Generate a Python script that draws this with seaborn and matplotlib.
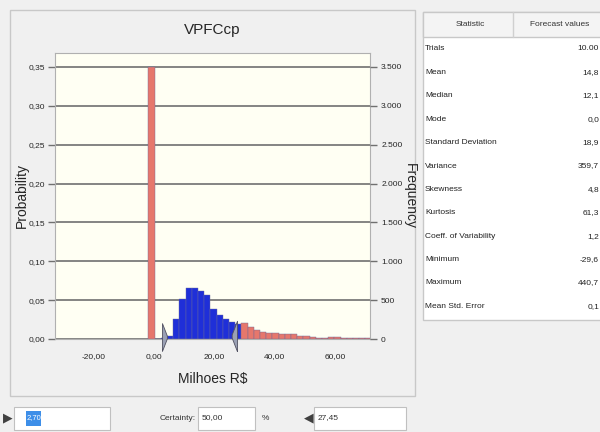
import numpy as np
import pandas as pd
import matplotlib
matplotlib.use("Agg")
import matplotlib.pyplot as plt
from matplotlib.patches import Rectangle
from matplotlib.lines import Line2D
import seaborn as sns

# Forecast histogram (bin width ~2.05)
bin_start = -1.8
bin_width = 2.05
probs = [0.350, 0.000, 0.001, 0.0045, 0.026, 0.052, 0.065, 0.066, 0.062, 0.057,
         0.039, 0.0315, 0.026, 0.0216, 0.0195, 0.020, 0.0152, 0.0118, 0.0096, 0.008,
         0.008, 0.0067, 0.0067, 0.0062, 0.0036, 0.0034, 0.003, 0.0018, 0.0016, 0.0026,
         0.0028, 0.0014, 0.0012, 0.001, 0.0009, 0.0008]
trials = 10000
left_value = 2.70
right_value = 27.45
certainty = "50,00"

prob_ticks = [0.00, 0.05, 0.10, 0.15, 0.20, 0.25, 0.30, 0.35]
freq_ticks = [0, 500, 1000, 1500, 2000, 2500, 3000, 3500]
x_ticks = [-20, 0, 20, 40, 60]

stat_names = ["Trials", "Mean", "Median", "Mode", "Standard Deviation", "Variance",
              "Skewness", "Kurtosis", "Coeff. of Variability", "Minimum", "Maximum",
              "Mean Std. Error"]
stat_values = ["10.00", "14,8", "12,1", "0,0", "18,9", "359,7", "4,8", "61,3",
               "1,2", "-29,6", "440,7", "0,1"]

edges = bin_start + bin_width * np.arange(len(probs) + 1)
centers = edges[:-1] + bin_width / 2
df = pd.DataFrame({"value": centers, "prob": probs})
df["zone"] = np.where((edges[:-1] + 0.5 >= left_value) & (edges[:-1] < right_value), "in", "out")

sns.set_style("white")
narrow = ["Liberation Sans Narrow", "DejaVu Sans Condensed", "Liberation Sans", "DejaVu Sans"]
plt.rcParams["font.family"] = narrow

W, H = 600, 432
fig = plt.figure(figsize=(6, 4.32), dpi=100, facecolor="#f0f0f0")

def fx(px):
    return px / W

def fy(py):
    return 1 - py / H

# chart panel frame
fig.patches.append(Rectangle((fx(10), fy(396)), fx(405), 386 / H, transform=fig.transFigure,
                             facecolor="#f0f0f0", edgecolor="#c8c8c8", lw=1, zorder=-5))
ax = fig.add_axes([fx(55), fy(339), fx(315), (339 - 53) / H])
ax.set_facecolor("#fffff3")
ax.set_zorder(3)

for zone, color in [("in", "#1f2fd8"), ("out", "#e6776c")]:
    sub = df[df["zone"] == zone]
    sns.histplot(x=sub["value"], weights=sub["prob"], bins=list(edges), color=color,
                 alpha=1, edgecolor="#6a6a9a", linewidth=0.3, ax=ax, zorder=3)

ax.set_xlim(-32.7, 71.5)
ax.set_ylim(0, 0.368)
ax.set_yticks(prob_ticks)
ax.set_yticklabels([f"{t:.2f}".replace(".", ",") for t in prob_ticks], fontsize=6)
ax.set_xticks(x_ticks)
ax.set_xticklabels([f"{t:.2f}".replace(".", ",") for t in x_ticks], fontsize=6)
ax.grid(axis="y", color="#707070", lw=1.2, zorder=1)
ax.set_axisbelow(True)
ax.tick_params(axis="y", length=5, color="#707070", width=1, pad=2)
ax.tick_params(axis="x", length=4, color="#999999", width=0.8, pad=6)
for s in ax.spines.values():
    s.set_color("#b0b0b0")
    s.set_linewidth(0.8)
ax.set_xlabel("Milhoes R$", fontsize=10, labelpad=9)
ax.set_ylabel("Probability", fontsize=10, family=["Liberation Sans", "DejaVu Sans"], labelpad=0)
ax.set_title("VPFCcp", fontsize=11, pad=14)

ax2 = ax.twinx()
ax2.set_zorder(3)
ax2.set_ylim(0, 0.368 * trials)
ax2.set_yticks(freq_ticks)
ax2.set_yticklabels([f"{t:,}".replace(",", ".") for t in freq_ticks], fontsize=6)
ax2.tick_params(axis="y", length=5, color="#707070", width=1, pad=3)
for s in ax2.spines.values():
    s.set_visible(False)
ax2.set_ylabel("Frequency", fontsize=10, rotation=270, family=["Liberation Sans", "DejaVu Sans"], labelpad=10)

# certainty grabbers
tri_r = [(0, -1), (0, 1), (0.35, 0.1), (0.35, -0.1), (0, -1)]
tri_l = [(0, -1), (0, 1), (-0.35, 0.1), (-0.35, -0.1), (0, -1)]
ax.plot([left_value], [0.002], marker=tri_r, ms=20, color="#9aa0b4", mec="#505060", mew=0.6,
        clip_on=False, zorder=5)
ax.plot([right_value], [0.004], marker=tri_l, ms=22, color="#9aa0b4", mec="#505060", mew=0.6,
        clip_on=False, zorder=5)

# statistics table
fig.patches.append(Rectangle((fx(423), fy(320)), fx(180), 308 / H, transform=fig.transFigure,
                             facecolor="white", edgecolor="#c8c8c8", lw=1))
fig.patches.append(Rectangle((fx(423), fy(37)), fx(180), 25 / H, transform=fig.transFigure,
                             facecolor="#f4f4f4", edgecolor="#c8c8c8", lw=1))
fig.add_artist(Line2D([fx(513), fx(513)], [fy(12), fy(37)], transform=fig.transFigure,
                      color="#d0d0d0", lw=1))
fig.text(fx(470), fy(25), "Statistic", ha="center", va="center", fontsize=6, color="#333333")
fig.text(fx(560), fy(25), "Forecast values", ha="center", va="center", fontsize=6, color="#333333")
for i, (name, val) in enumerate(zip(stat_names, stat_values)):
    y = fy(49 + 23.4 * i)
    fig.text(fx(425), y, name, ha="left", va="center", fontsize=6, color="#222222")
    fig.text(fx(599), y, val, ha="right", va="center", fontsize=6, color="#222222")

# bottom controls
fig.patches.append(Rectangle((fx(14), fy(430)), fx(96), 23 / H, transform=fig.transFigure,
                             facecolor="white", edgecolor="#c0c0c0", lw=0.8))
fig.patches.append(Rectangle((fx(26), fy(426)), fx(15), 15 / H, transform=fig.transFigure,
                             facecolor="#3d8ee8", edgecolor="none"))
fig.text(fx(27), fy(418), f"{left_value:.2f}".replace(".", ","), ha="left", va="center",
         fontsize=5.5, color="white")
fig.text(fx(8), fy(418), "\u25b6", ha="center", va="center", fontsize=9, color="#404040",
         family=["DejaVu Sans"])
fig.text(fx(160), fy(418), "Certainty:", ha="left", va="center", fontsize=6, color="#333333")
fig.patches.append(Rectangle((fx(198), fy(430)), fx(57), 23 / H, transform=fig.transFigure,
                             facecolor="white", edgecolor="#c0c0c0", lw=0.8))
fig.text(fx(202), fy(418), certainty, ha="left", va="center", fontsize=6, color="#333333")
fig.text(fx(262), fy(418), "%", ha="left", va="center", fontsize=6, color="#333333")
fig.text(fx(309), fy(418), "\u25c0", ha="center", va="center", fontsize=9, color="#404040",
         family=["DejaVu Sans"])
fig.patches.append(Rectangle((fx(314), fy(430)), fx(92), 23 / H, transform=fig.transFigure,
                             facecolor="white", edgecolor="#c0c0c0", lw=0.8))
fig.text(fx(318), fy(418), f"{right_value:.2f}".replace(".", ","), ha="left", va="center",
         fontsize=6, color="#333333")

fig.savefig("out.png", dpi=100, facecolor=fig.get_facecolor())
